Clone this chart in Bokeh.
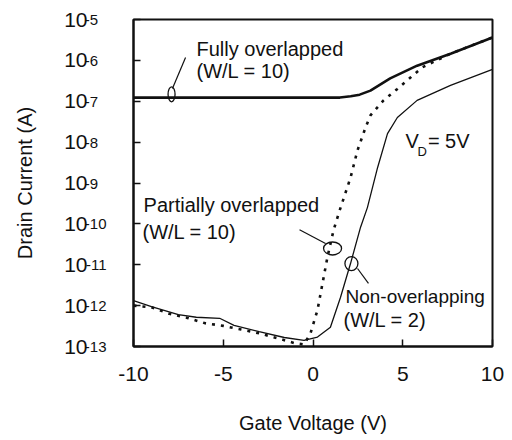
from bokeh.plotting import figure
from bokeh.models import Range1d, FixedTicker, CustomJSTickFormatter, Label, LogAxis
from bokeh.embed import file_html
from bokeh.resources import INLINE

# ---------------- data ----------------
x_full = [-10, 1.5, 2.1, 2.6, 3.2, 4.3, 5.8, 7.7, 10]
i_full = [1.23e-7, 1.23e-7, 1.32e-7, 1.45e-7, 1.82e-7, 3.63e-7, 7.41e-7, 1.48e-6, 3.63e-6]

x_part = [-10, -9, -8, -7, -6, -5, -4, -3, -2, -1, -0.5, -0.14, 0.25, 0.53, 0.8,
          1.14, 1.48, 2.09, 2.48, 2.93, 3.2, 3.59, 3.93, 4.7, 5.43, 6.1, 7.7, 10]
i_part = [1.0e-12, 9.1e-13, 6.3e-13, 5.0e-13, 3.7e-13, 3.2e-13, 2.6e-13, 2.1e-13,
          1.6e-13, 1.2e-13, 1.12e-13, 2.1e-13, 7.8e-13, 3.5e-12, 1.5e-11,
          6.9e-11, 2.1e-10, 1.35e-9, 6.3e-9, 2.3e-8, 4.5e-8, 7.1e-8, 1.05e-7,
          2.0e-7, 3.8e-7, 6.8e-7, 1.48e-6, 3.63e-6]

x_non = [-10, -9, -7.5, -6.5, -5.2, -4.4, -3, -1.6, -0.5, 0.25, 0.97, 1.53, 2.09,
         2.65, 3.03, 3.6, 4.15, 4.7, 5.8, 7.66, 10]
i_non = [1.32e-12, 9.5e-13, 6.0e-13, 5.2e-13, 4.9e-13, 3.3e-13, 2.3e-13, 1.66e-13,
         1.41e-13, 1.7e-13, 2.95e-13, 1.58e-12, 1.07e-11, 8.3e-11, 2.5e-10, 2.4e-9,
         1.62e-8, 4.0e-8, 1.05e-7, 2.45e-7, 6.0e-7]

x_ticks = [-10, -5, 0, 5, 10]
y_ticks = [1e-13, 1e-12, 1e-11, 1e-10, 1e-9, 1e-8, 1e-7, 1e-6, 1e-5]
y_tick_base = "10"
y_tick_exps = ["-13", "-12", "-11", "-10", "-9", "-8", "-7", "-6", "-5"]

x_label = "Gate Voltage (V)"
y_label = "Drain Current (A)"

# annotation marks (ellipse centers, pointer segments) in data units
ell_x = [-7.88, 1.09, 2.14]
ell_y = [1.48e-7, 2.5e-11, 1.07e-11]
ell_w = [7, 18, 13]
ell_h = [15, 13, 14]
ptr_x0 = [-7.83, -0.75, 2.48]
ptr_y0 = [2.04e-7, 7.2e-11, 8.1e-12]
ptr_x1 = [-7.10, 0.70, 3.09]
ptr_y1 = [1.17e-6, 3.3e-11, 3.5e-12]

texts = ["Fully overlapped", "(W/L = 10)", "Partially overlapped", "(W/L = 10)",
         "Non-overlapping", "(W/L = 2)"]
text_x = [-6.49, -6.49, -9.44, -9.50, 1.81, 1.70]
text_y = [1.95e-6, 5.6e-7, 2.95e-10, 6.5e-11, 1.66e-12, 4.4e-13]
text_size = ["20px", "20px", "20px", "20px", "19px", "20px"]

FONT = "Liberation Sans"
INK = "#111111"

p = figure(width=512, height=440, output_backend="svg", toolbar_location=None,
           y_axis_type="log",
           x_range=Range1d(-10, 10), y_range=Range1d(1e-13, 1e-5),
           min_border_left=133, min_border_right=20, min_border_top=19,
           min_border_bottom=94)

p.grid.visible = False
p.outline_line_color = INK
p.outline_line_width = 2

for ax in (p.xaxis[0], p.yaxis[0]):
    ax.axis_line_color = INK
    ax.axis_line_width = 2
    ax.major_tick_in = 7
    ax.major_tick_out = 0
    ax.major_tick_line_color = INK
    ax.major_tick_line_width = 1.5
    ax.minor_tick_line_color = None
    ax.major_label_text_font = FONT
    ax.major_label_text_font_size = "21px"
    ax.major_label_text_color = INK
    ax.axis_label_text_font = FONT
    ax.axis_label_text_font_size = "20px"
    ax.axis_label_text_font_style = "normal"
    ax.axis_label_text_color = INK

p.xaxis.ticker = FixedTicker(ticks=x_ticks)
p.xaxis.formatter = CustomJSTickFormatter(code="return String(tick);")
p.xaxis.major_label_standoff = 20
p.xaxis.axis_label = x_label
p.xaxis.axis_label_standoff = 28

# inner left axis: the exponents (raised), padded with figure spaces
exp_fmt = CustomJSTickFormatter(args=dict(tvals=y_ticks, evals=y_tick_exps), code="""
let best = 0, d = 1e9;
for (let i = 0; i < tvals.length; i++) {
  const dd = Math.abs(Math.log10(tvals[i]) - Math.log10(tick));
  if (dd < d) { d = dd; best = i; }
}
let s = evals[best];
while (s.length < 3) s += '\\u2007';
return s;
""")
yax = p.yaxis[0]
yax.ticker = FixedTicker(ticks=y_ticks)
yax.formatter = exp_fmt
yax.major_label_text_font_size = "15px"
yax.major_label_text_baseline = "bottom"
yax.major_label_standoff = 27

# outer left axis: the "10" bases, carrying the axis title
base_fmt = CustomJSTickFormatter(args=dict(bstr=y_tick_base), code="return bstr;")
base_axis = LogAxis(ticker=FixedTicker(ticks=y_ticks), formatter=base_fmt,
                    axis_line_color=None, major_tick_line_color=None,
                    minor_tick_line_color=None, major_tick_in=0, major_tick_out=0,
                    major_label_standoff=-6,
                    major_label_text_font=FONT, major_label_text_font_size="21px",
                    major_label_text_color=INK,
                    axis_label=y_label, axis_label_standoff=25,
                    axis_label_text_font=FONT, axis_label_text_font_size="20px",
                    axis_label_text_font_style="normal", axis_label_text_color=INK)
p.add_layout(base_axis, "left")

# curves
p.line(x_full, i_full, line_color=INK, line_width=2.6)
p.line(x_part, i_part, line_color=INK, line_width=2.6, line_dash="3 6")
p.line(x_non, i_non, line_color=INK, line_width=1.3)

# pointer marks
p.ellipse(x=ell_x, y=ell_y, width=ell_w, height=ell_h, width_units="screen",
          height_units="screen", fill_color=None, line_color=INK, line_width=1.3)
p.segment(x0=ptr_x0, y0=ptr_y0, x1=ptr_x1, y1=ptr_y1, line_color=INK, line_width=1.2)

for t, tx, ty, ts in zip(texts, text_x, text_y, text_size):
    p.add_layout(Label(x=tx, y=ty, text=t, text_font=FONT, text_font_size=ts,
                       text_color=INK, text_baseline="middle", text_align="left"))

# V_D = 5V
p.add_layout(Label(x=5.15, y=1.05e-8, text="V", text_font=FONT, text_font_size="20px",
                   text_color=INK, text_baseline="middle"))
p.add_layout(Label(x=5.82, y=5.8e-9, text="D", text_font=FONT, text_font_size="13px",
                   text_color=INK, text_baseline="middle"))
p.add_layout(Label(x=6.40, y=1.05e-8, text="= 5V", text_font=FONT, text_font_size="20px",
                   text_color=INK, text_baseline="middle"))

open("out.html", "w").write(file_html(p, INLINE))
